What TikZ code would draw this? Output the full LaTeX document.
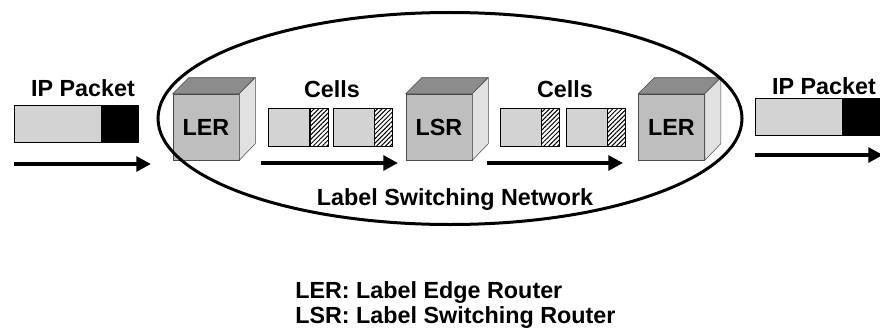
\documentclass[tikz,border=0pt]{standalone}
\usepackage{fontspec}
\setmainfont{Liberation Sans}
\usepackage{xcolor}
\usetikzlibrary{arrows.meta}
\usetikzlibrary{positioning}
\usetikzlibrary{patterns.meta}

\definecolor{bodygray}{RGB}{211,211,211}
\definecolor{frontgray}{RGB}{190,190,190}
\definecolor{topgray}{RGB}{140,140,140}
\definecolor{sidegray}{RGB}{225,225,225}

\begin{document}
\begin{tikzpicture}[x=0.75pt, y=-0.75pt, font=\fontsize{17.5}{18.75}\selectfont\bfseries,
  flow/.style={-{Triangle[length=11pt,width=11pt]}, line width=3pt}]
\tikzstyle{router} = [draw=black!70, fill=frontgray, minimum width=49.5pt, minimum height=49.5pt, inner sep=0pt]
\tikzstyle{pktbody} = [draw=black, fill=bodygray, minimum width=65.25pt, minimum height=27.75pt, inner sep=0pt]
\tikzstyle{pkthead} = [draw=black, fill=black, minimum width=27.5pt, minimum height=27.75pt, inner sep=0pt]
\tikzstyle{cellbody} = [draw=black, fill=bodygray, minimum width=30.75pt, minimum height=28.5pt, inner sep=0pt]
\tikzstyle{cellhead} = [draw=black, pattern={Lines[angle=45, distance=2.4pt, line width=0.75pt]}, minimum width=13.5pt, minimum height=28.5pt, inner sep=0pt]

\useasboundingbox (0,0) rectangle (880,328);

% packets outside the network
\node[pktbody] (pktin) at (57.5,123.5) {};
\node[pkthead, right=0pt of pktin] (hdrin) {};
\node[pktbody] (pktout) at (798.5,116.5) {};
\node[pkthead, right=0pt of pktout] (hdrout) {};
\node (lblin) at (83,88) {IP Packet};
\node (lblout) at (824,86) {IP Packet};

% routers
\node[router] (ler1) at (206,127) {LER};
\node[router] (lsr) at (439,127) {LSR};
\node[router] (ler2) at (671.5,127) {LER};
\foreach \r in {ler1,lsr,ler2} {
  \filldraw[draw=black!70, fill=topgray] (\r.north west) -- ++(16,-16) -- ++(66,0) -- (\r.north east) -- cycle;
  \filldraw[draw=black!70, fill=sidegray] (\r.south east) -- (\r.north east) -- ++(16,-16) -- ++(0,66) -- cycle;
}

% cells
\node[cellbody] (c1) at (288.5,127) {};
\node[cellhead, right=0pt of c1] (h1) {};
\node[cellbody] (c2) at (353.5,127) {};
\node[cellhead, right=0pt of c2] (h2) {};
\node[cellbody] (c3) at (520.5,127) {};
\node[cellhead, right=0pt of c3] (h3) {};
\node[cellbody] (c4) at (586.5,127) {};
\node[cellhead, right=0pt of c4] (h4) {};
\node (cells1) at (332,89) {Cells};
\node (cells2) at (565,89) {Cells};

% direction of flow
\coordinate (in1) at (14,164);
\coordinate (in2) at (151,164);
\coordinate (mid1) at (261,163);
\coordinate (mid2) at (398,163);
\coordinate (mid3) at (487,163);
\coordinate (mid4) at (623,163);
\coordinate (out1) at (755,155);
\coordinate (out2) at (883,155);
\draw[flow] (in1) -- (in2);
\draw[flow] (mid1) -- (mid2);
\draw[flow] (mid3) -- (mid4);
\draw[flow] (out1) -- (out2);

% the network
\node (net) at (455,200) {Label Switching Network};
\draw[line width=2.25pt] (450,118.5) ellipse [x radius=292, y radius=106];

% legend
\node[anchor=north west, inner sep=0pt, align=left] (legend) at (295,281)
  {LER: Label Edge Router\\LSR: Label Switching Router};

\end{tikzpicture}
\end{document}
